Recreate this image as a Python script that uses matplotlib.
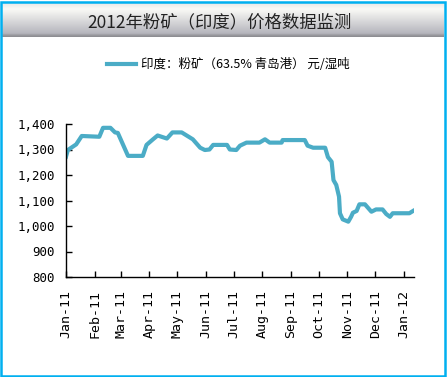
import matplotlib
matplotlib.use("Agg")
import matplotlib.pyplot as plt
import matplotlib.dates as mdates
import numpy as np
import pandas as pd
from matplotlib.patches import Rectangle

plt.rcParams['font.family'] = ['Noto Sans CJK SC', 'DejaVu Sans']

title = "2012年粉矿（印度）价格数据监测"
series_name = "印度：粉矿（63.5% 青岛港） 元/湿吨"

dates = ["2011-01-01", "2011-01-03", "2011-01-12", "2011-01-18", "2011-02-06",
         "2011-02-10", "2011-02-18", "2011-02-23", "2011-02-26", "2011-03-09",
         "2011-03-25", "2011-03-29", "2011-04-05", "2011-04-10", "2011-04-20",
         "2011-04-26", "2011-05-06", "2011-05-18", "2011-05-26", "2011-05-31",
         "2011-06-05", "2011-06-09", "2011-06-24", "2011-06-27", "2011-07-04",
         "2011-07-08", "2011-07-15", "2011-07-29", "2011-08-04", "2011-08-09",
         "2011-08-22", "2011-08-23", "2011-09-16", "2011-09-19", "2011-09-25",
         "2011-10-08", "2011-10-11", "2011-10-15", "2011-10-17", "2011-10-20",
         "2011-10-23", "2011-10-24", "2011-10-27", "2011-11-02", "2011-11-05",
         "2011-11-07", "2011-11-11", "2011-11-14", "2011-11-20", "2011-11-27",
         "2011-12-02", "2011-12-09", "2011-12-13", "2011-12-17", "2011-12-20",
         "2012-01-07", "2012-01-11"]
prices = [1272, 1298, 1320, 1353, 1350,
          1385, 1385, 1367, 1365, 1275,
          1275, 1318, 1340, 1355, 1343,
          1367, 1367, 1340, 1307, 1298,
          1300, 1318, 1318, 1300, 1298,
          1315, 1327, 1327, 1340, 1327,
          1327, 1337, 1337, 1315, 1307,
          1307, 1270, 1252, 1180, 1161,
          1115, 1050, 1026, 1017, 1036,
          1052, 1059, 1085, 1085, 1056,
          1065, 1065, 1047, 1036, 1050,
          1050, 1059]
yticks = [800, 900, 1000, 1100, 1200, 1300, 1400]

W, H = 447, 377
fig = plt.figure(figsize=(W/100, H/100), dpi=100)
fig.patch.set_facecolor('white')

# title band gradient
bax = fig.add_axes([2/W, 1-37/H, 442/W, 35/H])
stops = np.array([0.0, 0.2, 0.9, 0.95, 1.0])
cols = np.array([[0.90, 0.90, 0.90], [0.98, 0.98, 0.965], [0.71, 0.71, 0.74],
                 [0.60, 0.60, 0.62], [0.55, 0.55, 0.57]])
t = np.linspace(0, 1, 100)
grad = np.stack([np.interp(t, stops, cols[:, i]) for i in range(3)], axis=-1)
bax.imshow(grad[:, None, :], aspect='auto', extent=[0, 1, 0, 1])
bax.set_axis_off()
fig.text(220/W, 1-22/H, title, ha='center', va='center', fontsize=12.5, color='#222222')

ax = fig.add_axes([66/W, 1-277/H, (414-66)/W, (277-124)/H])
x = pd.to_datetime(dates)
ln, = ax.plot(x, prices, color='#4BACC6', lw=3, solid_joinstyle='round')
ax.set_ylim(800, 1400)
ax.set_xlim(pd.Timestamp("2011-01-01"), pd.Timestamp("2012-01-12"))
ax.set_yticks(yticks)
ax.set_yticklabels([f"{v:,}" for v in yticks], family='DejaVu Sans Mono', fontsize=9)
ax.xaxis.set_major_locator(mdates.MonthLocator())
ax.xaxis.set_major_formatter(mdates.DateFormatter('%b-%y'))
for lab in ax.get_xticklabels():
    lab.set_family('DejaVu Sans Mono')
    lab.set_fontsize(9.5)
    lab.set_rotation(90)
ax.tick_params(axis='both', direction='in', length=4, width=1, color='black')
ax.tick_params(axis='x', pad=9)
ax.tick_params(axis='y', pad=8)
for s in ['top', 'right']:
    ax.spines[s].set_visible(False)
for s in ['left', 'bottom']:
    ax.spines[s].set_color('black')
    ax.spines[s].set_linewidth(1)

fig.legend([ln], [series_name], loc='center', bbox_to_anchor=(228/W, 1-65/H),
           frameon=False, fontsize=9, handlelength=2.3, handletextpad=0.4)

fig.add_artist(Rectangle((1/W, 1/H), (W-3)/W, (H-2.5)/H, transform=fig.transFigure,
                         fill=False, edgecolor='#00B0F0', lw=1.8))

fig.savefig('out.png', dpi=100)
